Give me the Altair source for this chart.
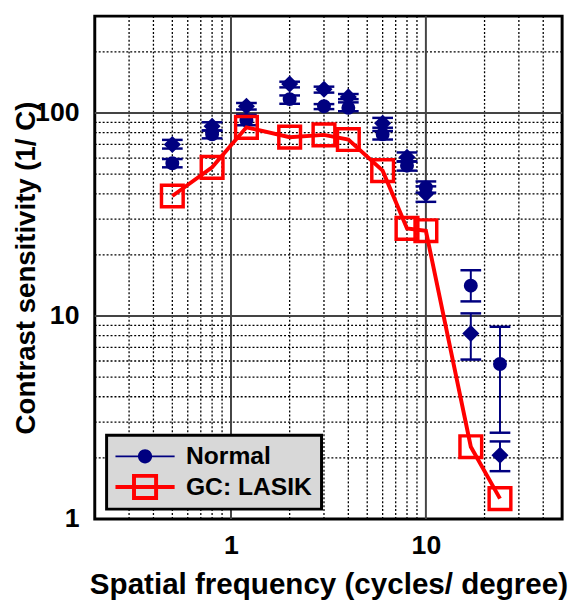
import altair as alt
import pandas as pd

# ---- data ----
freq = [0.5, 0.8, 1.2, 2, 3, 4, 6, 8, 10, 17, 24]
lasik = [39, 54, 85, 76, 78, 74, 52, 27, 26.3, 2.27, 1.26]

normal_circle = [56.5, 78.5, 92, 117, 108, 106, 78.5, 55, 43, 14.1, 5.8]
circle_lo = [54, 75, 87, 111, 104.5, 102, 74, 52, 40.5, 11.8, 2.66]
circle_hi = [59.3, 82, 98, 122, 110.6, 112.8, 81.5, 57.6, 46, 16.8, 8.85]

normal_diamond = [70, 86, 108, 139, 131, 120, 89, 60.5, 40, 8.2, 2.06]
diamond_lo = [66.8, 82, 104, 133.7, 126, 117, 84.6, 57.8, 36.5, 6.1, 1.72]
diamond_hi = [73.7, 90, 112, 142.6, 134.8, 124, 94.6, 63.9, 43.5, 10.3, 2.41]

series_names = ["Normal", "GC: LASIK"]

x_minor = [0.3, 0.4, 0.5, 0.6, 0.7, 0.8, 0.9, 2, 3, 4, 5, 6, 7, 8, 9, 20, 30, 40]
x_major = [1, 10]
y_minor = [2, 3, 4, 5, 6, 7, 8, 9, 20, 30, 40, 50, 60, 70, 80, 90, 200]
y_major = [10, 100]
x_labels = [1, 10]
y_labels = [1, 10, 100]

FONT = "Liberation Sans"
NAVY = "#000080"
RED = "#ff0000"

# legend symbols: line + marker (unit = 10 px at symbol size 400)
path_normal = ("M-3,-0.08H3V0.08H-3Z "
               "M0.72,0A0.72,0.72 0 1,1 -0.72,0A0.72,0.72 0 1,1 0.72,0Z")
path_lasik = ("M-3,-0.2H3V0.2H-3Z "
              "M-1.32,-1.32H1.32V1.32H-1.32Z "
              "M-0.92,-0.92V0.92H0.92V-0.92Z")

circ = pd.DataFrame({"freq": freq, "val": normal_circle, "lo": circle_lo, "hi": circle_hi})
diam = pd.DataFrame({"freq": freq, "val": normal_diamond, "lo": diamond_lo, "hi": diamond_hi})
las = pd.DataFrame({"freq": freq, "val": lasik})

xs = alt.Scale(type="log", domain=[0.2, 50], nice=False)
ys = alt.Scale(type="log", domain=[1, 300], nice=False)

x_axis = alt.Axis(
    values=x_labels, format="~g", grid=False, ticks=False, tickSize=0, domain=False,
    labelFont=FONT, labelFontSize=27, labelFontWeight="bold", labelColor="black",
    labelPadding=14,
    title="Spatial frequency (cycles/ degree)", titleFont=FONT, titleFontSize=30,
    titleFontWeight="bold", titleColor="black", titleX=237, titleY=76,
    titleBaseline="alphabetic", titleAlign="center",
)
y_axis = alt.Axis(
    values=y_labels, format="~g", grid=False, ticks=False, tickSize=0, domain=False,
    labelFont=FONT, labelFontSize=27, labelFontWeight="bold", labelColor="black",
    labelPadding=16,
    title="Contrast sensitivity (1/ C)", titleFont=FONT, titleFontSize=28,
    titleFontWeight="bold", titleColor="black", titleX=-61, titleY=255,
    titleAngle=270, titleBaseline="alphabetic", titleAlign="center",
)

X = lambda f: alt.X(f, type="quantitative", scale=xs, axis=x_axis)
Y = lambda f: alt.Y(f, type="quantitative", scale=ys, axis=y_axis)

gx_minor = alt.Chart(pd.DataFrame({"v": x_minor})).mark_rule(
    color="black", strokeWidth=1.3, strokeDash=[2, 2]).encode(x=X("v"))
gy_minor = alt.Chart(pd.DataFrame({"v": y_minor})).mark_rule(
    color="black", strokeWidth=1.3, strokeDash=[2, 2]).encode(y=Y("v"))
gx_major = alt.Chart(pd.DataFrame({"v": x_major})).mark_rule(
    color="#444444", strokeWidth=2).encode(x=X("v"))
gy_major = alt.Chart(pd.DataFrame({"v": y_major})).mark_rule(
    color="#444444", strokeWidth=2).encode(y=Y("v"))

def err_layers(df):
    bar = alt.Chart(df).mark_rule(color=NAVY, strokeWidth=2).encode(
        x=X("freq"), y=Y("lo"), y2="hi")
    cap_lo = alt.Chart(df).mark_tick(orient="horizontal", color=NAVY, size=21,
                                     thickness=2.5, opacity=1).encode(x=X("freq"), y=Y("lo"))
    cap_hi = alt.Chart(df).mark_tick(orient="horizontal", color=NAVY, size=21,
                                     thickness=2.5, opacity=1).encode(x=X("freq"), y=Y("hi"))
    return [bar, cap_lo, cap_hi]

circ_pts = alt.Chart(circ).mark_point(filled=True, shape="circle", size=200,
                                      color=NAVY, opacity=1).encode(x=X("freq"), y=Y("val"))
diam_pts = alt.Chart(diam).mark_point(filled=True, shape="diamond", size=300,
                                      color=NAVY, opacity=1).encode(x=X("freq"), y=Y("val"))

las_line = alt.Chart(las).mark_line(color=RED, strokeWidth=4).encode(x=X("freq"), y=Y("val"))
las_pts = alt.Chart(las).mark_point(shape="square", size=484, filled=False, color=RED,
                                    strokeWidth=3.5, opacity=1).encode(x=X("freq"), y=Y("val"))

leg = alt.Legend(
    title=None, orient="none", legendX=12, legendY=425,
    symbolSize=400, symbolOffset=17.5, labelOffset=29, symbolStrokeWidth=0,
    labelFont=FONT, labelFontSize=25, labelFontWeight="bold", labelColor="black",
    labelLimit=300, padding=9, rowPadding=4,
    fillColor="#d8d8d8", strokeColor="black",
)
legend_layer = alt.Chart(pd.DataFrame({"series": series_names})).transform_filter(
    "false").mark_point(filled=True, size=400, opacity=1).encode(
    color=alt.Color("series:N", scale=alt.Scale(domain=series_names, range=[NAVY, RED]), legend=leg),
    shape=alt.Shape("series:N", scale=alt.Scale(domain=series_names, range=[path_normal, path_lasik]), legend=leg),
)

chart = alt.layer(
    gx_minor, gy_minor, gx_major, gy_major,
    *err_layers(circ), *err_layers(diam),
    circ_pts, diam_pts, las_line, las_pts, legend_layer,
).properties(
    width=474, height=510,
    autosize=alt.AutoSizeParams(type="none"),
    padding={"left": 88, "top": 4, "right": 8, "bottom": 83},
).configure_view(
    fill="#d8d8d8", stroke="black", strokeWidth=3,
).configure_legend(strokeWidth=3)

chart.save("out.html", embed_options={"renderer": "svg", "actions": False})
